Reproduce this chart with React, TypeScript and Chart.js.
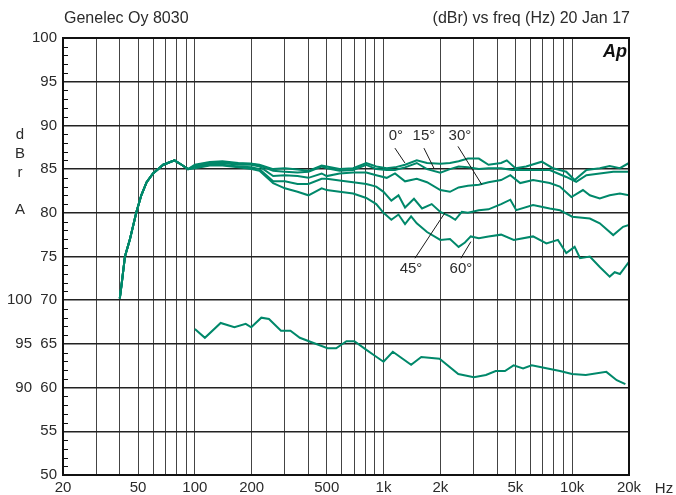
import React, { useEffect, useRef } from 'react';
import { Chart, registerables } from 'chart.js';

Chart.register(...registerables);

const FONT = '"Liberation Sans", Arial, Helvetica, sans-serif';

// shared low-frequency roll-off (all angles coincide)
const lfFreq = [40, 41, 42.6, 45.3, 49, 52, 55.5, 60, 68, 78, 85, 92];
const lfDb = [70.2, 72.0, 75.0, 77.0, 80.1, 82.0, 83.5, 84.5, 85.5, 86.0, 85.5, 85.0];

const f0 = [100, 120, 140, 170, 200, 220, 260, 300, 350, 400, 470, 500, 585, 690, 810, 915, 1040, 1150, 1300, 1500, 1700, 2000, 2250, 2500, 2800, 3200, 3600, 4200, 4500, 5000, 5700, 6900, 7900, 9300, 10300, 11900, 14000, 15800, 17900, 20000];
const d0 = [85.5, 85.8, 85.9, 85.7, 85.6, 85.5, 85.0, 85.1, 84.95, 84.8, 85.4, 85.3, 85.0, 85.1, 85.7, 85.3, 85.1, 85.2, 85.5, 86.0, 85.7, 85.6, 85.7, 85.9, 86.2, 86.2, 85.5, 85.7, 86.0, 85.1, 85.3, 85.85, 85.1, 84.7, 83.75, 84.9, 85.1, 85.35, 85.1, 85.7];

const f15 = [100, 120, 140, 170, 200, 220, 260, 300, 350, 400, 470, 500, 585, 690, 810, 915, 1040, 1150, 1300, 1500, 1700, 2000, 2250, 2500, 2800, 3200, 3600, 4200, 4800, 6200, 7600, 9300, 10500, 11900, 14000, 16500, 20000];
const d15 = [85.4, 85.7, 85.8, 85.6, 85.6, 85.4, 84.8, 84.7, 84.6, 84.7, 85.3, 85.1, 84.8, 84.9, 85.5, 85.0, 84.9, 84.9, 85.2, 85.7, 85.0, 84.6, 85.0, 85.3, 85.2, 85.0, 85.1, 85.1, 84.9, 84.9, 84.9, 84.1, 83.55, 84.3, 84.5, 84.7, 84.7];

const f30 = [100, 120, 140, 170, 200, 220, 260, 300, 350, 400, 470, 500, 585, 690, 810, 915, 1040, 1150, 1300, 1500, 1700, 2000, 2250, 2500, 2800, 3200, 3600, 4200, 4700, 5300, 6200, 7600, 8600, 9900, 11400, 12400, 14000, 15800, 17900, 20000];
const d30 = [85.3, 85.6, 85.7, 85.5, 85.5, 85.3, 84.2, 84.3, 84.2, 84.0, 84.5, 84.2, 84.5, 84.6, 84.6, 84.3, 84.0, 84.5, 83.6, 83.9, 83.5, 82.6, 82.4, 82.9, 83.1, 83.2, 83.5, 83.75, 84.3, 83.4, 83.75, 83.4, 83.0, 81.8, 82.6, 82.0, 81.65, 82.0, 82.2, 82.0];

const f45 = [100, 120, 140, 170, 200, 220, 260, 300, 350, 400, 470, 500, 585, 690, 810, 915, 1000, 1100, 1200, 1300, 1450, 1600, 1800, 2000, 2250, 2400, 2600, 2800, 3200, 3600, 4200, 4700, 5050, 6200, 7600, 8600, 10000, 12400, 14000, 16500, 18600, 20000];
const d45 = [85.2, 85.5, 85.5, 85.3, 85.2, 85.0, 83.6, 83.6, 83.3, 83.3, 83.9, 83.9, 83.7, 83.5, 83.3, 83.0, 82.4, 81.4, 82.0, 80.6, 81.6, 80.5, 81.0, 80.1, 79.6, 79.2, 80.1, 80.0, 80.3, 80.4, 81.0, 81.5, 80.3, 80.9, 80.5, 80.3, 79.55, 79.35, 78.8, 77.45, 78.4, 78.6];

const f60 = [100, 120, 140, 170, 200, 220, 260, 300, 350, 400, 470, 500, 585, 690, 810, 915, 1000, 1100, 1200, 1300, 1400, 1500, 1700, 2000, 2250, 2500, 2700, 2900, 3200, 3600, 4200, 4900, 6200, 7300, 8400, 9300, 10300, 11000, 12400, 14000, 15800, 16800, 17900, 20000];
const d60 = [85.1, 85.4, 85.4, 85.2, 85.0, 84.8, 83.4, 82.8, 82.4, 82.0, 82.8, 82.6, 82.4, 82.2, 81.7, 81.0, 80.0, 79.2, 79.8, 78.7, 79.6, 78.8, 77.8, 76.9, 77.0, 76.1, 76.6, 77.3, 77.1, 77.3, 77.5, 76.9, 77.3, 76.5, 76.9, 75.4, 76.1, 74.8, 75.0, 73.8, 72.7, 73.2, 73.0, 74.4];

// lower trace, read on the inner scale (90..100)
const lowFreq = [100, 113, 137, 162, 186, 199, 225, 247, 286, 321, 360, 409, 505, 561, 636, 701, 801, 891, 1000, 1120, 1400, 1585, 1980, 2490, 3010, 3490, 3930, 4400, 4890, 5490, 6100, 6970, 8610, 9980, 11800, 15170, 17220, 19140];
const lowDb = [96.7, 95.7, 97.4, 96.9, 97.3, 96.9, 98.0, 97.85, 96.5, 96.5, 95.7, 95.25, 94.5, 94.5, 95.3, 95.3, 94.4, 93.7, 92.96, 94.1, 92.6, 93.5, 93.3, 91.55, 91.2, 91.45, 91.9, 91.9, 92.55, 92.2, 92.55, 92.3, 91.9, 91.55, 91.45, 91.8, 90.85, 90.4];

const gridFreqs = [20, 30, 40, 50, 60, 70, 80, 90, 100, 200, 300, 400, 500, 600, 700, 800, 900, 1000, 2000, 3000, 4000, 5000, 6000, 7000, 8000, 9000, 10000, 20000];
const xLabelValues = [20, 50, 100, 200, 500, 1000, 2000, 5000, 10000, 20000];
const xLabelTexts = ['20', '50', '100', '200', '500', '1k', '2k', '5k', '10k', '20k'];
const innerTicks = [90, 95, 100];

const angleLabels = ['0°', '15°', '30°', '45°', '60°'];
const labelFreq = [1163, 1637, 2541, 1398, 2572];
const labelDb = [88.8, 88.8, 88.8, 73.6, 73.6];
const leaderFrom = [[1149, 87.4], [1637, 87.4], [2480, 87.6], [1467, 74.8], [2572, 74.8]];
const leaderTo = [[1298, 85.7], [1850, 85.1], [3323, 83.2], [2115, 80.0], [2905, 76.7]];

const GREEN = '#00886a';
const TEXT = '#2b2b2b';

function pts(f: number[], d: number[], withLf = true) {
  const base = withLf ? lfFreq.map((x, i) => ({ x, y: lfDb[i] })) : [];
  return base.concat(f.map((x, i) => ({ x, y: d[i] })));
}

export default function App() {
  const ref = useRef<HTMLCanvasElement>(null);

  useEffect(() => {
    document.body.style.margin = '0';
    const canvas = ref.current!;

    const deco = {
      id: 'deco',
      afterDraw(chart: any) {
        const { ctx, chartArea: a, scales } = chart;
        const x = scales.x;
        const y = scales.y;
        ctx.save();
        // minor ticks
        ctx.strokeStyle = '#111';
        ctx.lineWidth = 1;
        for (let v = 51; v < 100; v++) {
          if (v % 5 === 0) continue;
          const py = Math.round(y.getPixelForValue(v)) + 0.5;
          ctx.beginPath();
          ctx.moveTo(a.left, py);
          ctx.lineTo(a.left + 5, py);
          ctx.stroke();
        }
        // frame
        ctx.lineWidth = 2;
        ctx.strokeStyle = '#111';
        ctx.strokeRect(a.left, a.top, a.right - a.left, a.bottom - a.top);

        ctx.fillStyle = TEXT;
        ctx.font = `16px ${FONT}`;
        ctx.textBaseline = 'alphabetic';
        ctx.textAlign = 'left';
        ctx.fillText('Genelec Oy 8030', a.left + 1, 23);
        ctx.textAlign = 'right';
        ctx.fillText('(dBr) vs freq (Hz) 20 Jan 17', a.right + 1, 23);

        ctx.font = `15px ${FONT}`;
        ctx.textAlign = 'center';
        ctx.textBaseline = 'middle';
        const letters = ['d', 'B', 'r', 'A'];
        const ly = [135, 154, 173, 210];
        letters.forEach((l, i) => ctx.fillText(l, 20, ly[i]));
        ctx.fillText('Hz', 664, 489);

        // angle labels with leader lines
        ctx.strokeStyle = '#1a1a1a';
        ctx.lineWidth = 1;
        angleLabels.forEach((t, i) => {
          ctx.fillText(t, x.getPixelForValue(labelFreq[i]), y.getPixelForValue(labelDb[i]));
          ctx.beginPath();
          ctx.moveTo(x.getPixelForValue(leaderFrom[i][0]), y.getPixelForValue(leaderFrom[i][1]));
          ctx.lineTo(x.getPixelForValue(leaderTo[i][0]), y.getPixelForValue(leaderTo[i][1]));
          ctx.stroke();
        });

        // Ap logo
        ctx.font = `italic bold 18px ${FONT}`;
        ctx.fillStyle = '#111';
        ctx.fillText('Ap', 615, 52);
        ctx.restore();
      },
    };

    const curve = (f: number[], d: number[]) => ({
      data: pts(f, d),
      borderColor: GREEN,
      borderWidth: 2,
      pointRadius: 0,
      fill: false,
      yAxisID: 'y',
    });

    const chart = new Chart(canvas, {
      type: 'line',
      data: {
        datasets: [
          curve(f60, d60),
          curve(f45, d45),
          curve(f30, d30),
          curve(f15, d15),
          curve(f0, d0),
          {
            data: pts(lowFreq, lowDb, false),
            borderColor: GREEN,
            borderWidth: 2,
            pointRadius: 0,
            fill: false,
            yAxisID: 'y2',
          },
        ] as any,
      },
      options: {
        responsive: false,
        animation: false,
        layout: { padding: { left: 0, top: 38, right: 47, bottom: 0 } },
        plugins: { legend: { display: false }, tooltip: { enabled: false }, title: { display: false } },
        scales: {
          x: {
            type: 'logarithmic',
            min: 20,
            max: 20000,
            afterBuildTicks: (s: any) => {
              s.ticks = gridFreqs.map((v) => ({ value: v }));
            },
            afterFit: (s: any) => {
              s.height = 20;
            },
            ticks: {
              autoSkip: false,
              maxRotation: 0,
              padding: 4,
              color: TEXT,
              font: { family: FONT, size: 15 },
              callback: (v: any) => {
                const i = xLabelValues.indexOf(Number(v));
                return i >= 0 ? xLabelTexts[i] : '';
              },
            },
            grid: { color: '#444', lineWidth: 1, drawTicks: false },
            border: { display: false },
          },
          y: {
            type: 'linear',
            position: 'left',
            min: 50,
            max: 100,
            weight: 0,
            afterFit: (s: any) => {
              s.width = 31;
            },
            ticks: {
              stepSize: 5,
              padding: 6,
              color: TEXT,
              font: { family: FONT, size: 15 },
              callback: (v: any) => String(v),
            },
            grid: { color: '#222', lineWidth: 1.5, drawTicks: false },
            border: { display: false },
          },
          y2: {
            type: 'linear',
            position: 'left',
            min: 80,
            max: 130,
            weight: 1,
            afterBuildTicks: (s: any) => {
              s.ticks = innerTicks.map((v) => ({ value: v }));
            },
            afterFit: (s: any) => {
              s.width = 32;
            },
            ticks: {
              padding: 0,
              color: TEXT,
              font: { family: FONT, size: 15 },
              callback: (v: any) => String(v),
            },
            grid: { display: false, drawTicks: false },
            border: { display: false },
          },
        },
      } as any,
      plugins: [deco],
    });

    return () => chart.destroy();
  }, []);

  return (
    <div style={{ width: 676, height: 495 }}>
      <canvas ref={ref} width={676} height={495} style={{ display: 'block' }} />
    </div>
  );
}
